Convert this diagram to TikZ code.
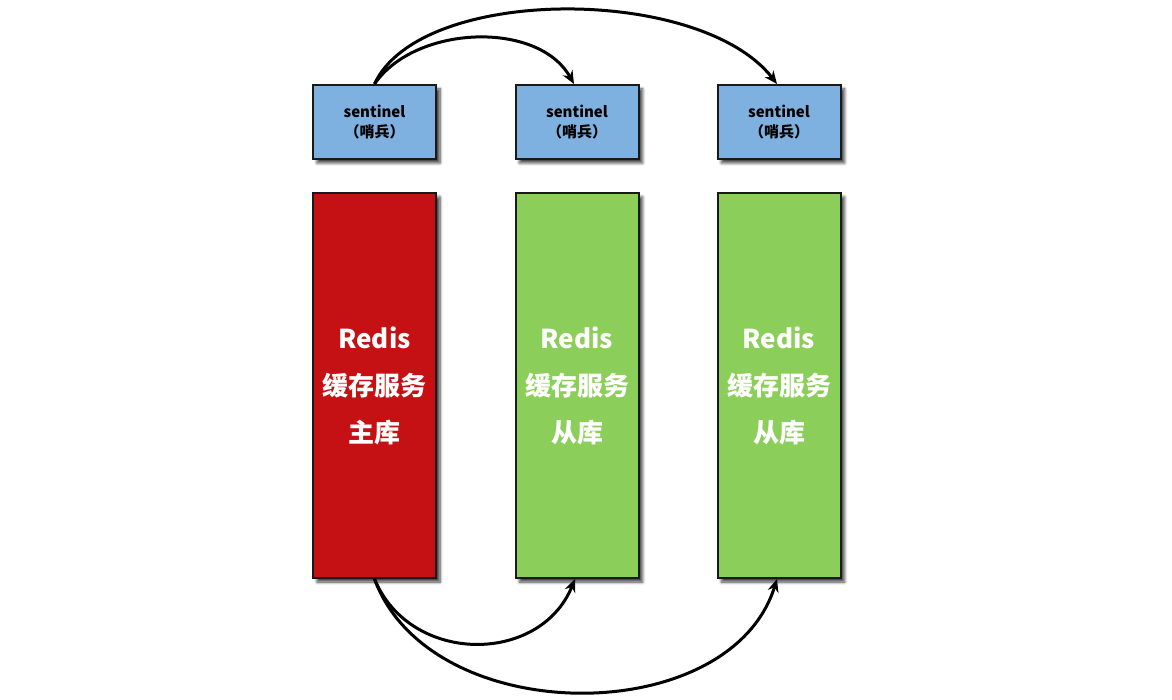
\documentclass[tikz,border=0pt]{standalone}
\usepackage{fontspec}
\setmainfont{Noto Sans CJK SC}
\usetikzlibrary{arrows.meta,shadows.blur}
\definecolor{sentblue}{RGB}{126,176,224}
\definecolor{masterred}{RGB}{198,17,20}
\definecolor{slavegreen}{RGB}{139,207,90}
\definecolor{edgegray}{RGB}{25,25,25}
\tikzset{
  boxbase/.style={draw=edgegray, line width=2pt, inner sep=0pt,
    minimum width=123pt, align=center,
    blur shadow={shadow xshift=4pt, shadow yshift=-4pt, shadow blur steps=6, shadow blur radius=3pt, shadow opacity=75}},
  sentbox/.style={boxbase, fill=sentblue, minimum height=74pt,
    font=\fontsize{15}{20}\selectfont\bfseries, text=black},
  redisbox/.style={boxbase, minimum height=385pt,
    font=\fontsize{26}{47}\selectfont\bfseries, text=white},
  link/.style={line width=3pt, draw=black, -{Stealth[length=13pt,width=11pt]}}
}
\begin{document}
\begin{tikzpicture}[x=1pt,y=-1pt]
\useasboundingbox (0,0) rectangle (1172,700);
\node[sentbox] (s1) at (374.5,122) {sentinel\\（哨兵）};
\node[sentbox] (s2) at (577,122) {sentinel\\（哨兵）};
\node[sentbox] (s3) at (779,122) {sentinel\\（哨兵）};
\node[redisbox, fill=masterred] (m) at (374.5,385.5) {Redis\\缓存服务\\主库};
\node[redisbox, fill=slavegreen] (r2) at (577,385.5) {Redis\\缓存服务\\从库};
\node[redisbox, fill=slavegreen] (r3) at (779,385.5) {Redis\\缓存服务\\从库};
\draw[link] (s1.north) .. controls (420,-15) and (700,-15) .. ([xshift=-2pt]s3.north);
\draw[link] (s1.north) .. controls (415,25) and (538,20) .. ([xshift=-3pt]s2.north);
\draw[link] (m.south) .. controls (410,665) and (540,665) .. ([xshift=-2pt]r2.south);
\draw[link] (m.south) .. controls (430,730) and (730,730) .. ([xshift=-2pt]r3.south);
\end{tikzpicture}
\end{document}
